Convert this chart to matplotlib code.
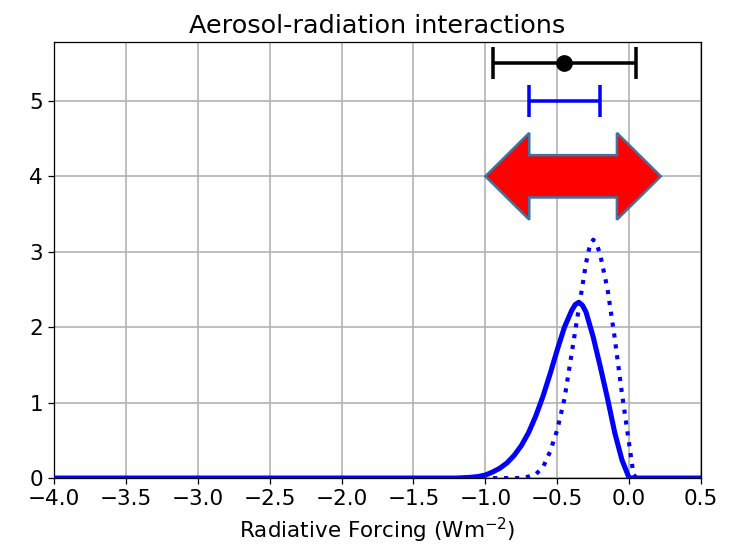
import numpy as np
import matplotlib
matplotlib.use("Agg")
import matplotlib.pyplot as plt
from matplotlib.patches import Polygon

plt.rcParams['font.size'] = 13.5

# solid curve
x_solid = [-4.0, -1.2, -1.1, -1.05, -1.0, -0.95, -0.9, -0.85, -0.8, -0.75, -0.7,
           -0.65, -0.6, -0.55, -0.5, -0.45, -0.4, -0.375, -0.35, -0.325, -0.3,
           -0.25, -0.2, -0.15, -0.1, -0.05, 0.0, 0.5]
y_solid = [0.0, 0.0, 0.01, 0.02, 0.04, 0.08, 0.13, 0.2, 0.3, 0.43, 0.6,
           0.82, 1.08, 1.38, 1.7, 2.0, 2.22, 2.3, 2.33, 2.29, 2.2,
           1.87, 1.47, 1.05, 0.6, 0.24, 0.0, 0.0]

# dotted curve
x_dot = [-4.0, -0.75, -0.7, -0.65, -0.6, -0.55, -0.5, -0.45, -0.4, -0.35, -0.3,
         -0.275, -0.25, -0.225, -0.2, -0.15, -0.1, -0.05, 0.0, 0.03, 0.05, 0.5]
y_dot = [0.0, 0.0, 0.02, 0.05, 0.14, 0.35, 0.64, 1.05, 1.65, 2.25, 2.85,
         3.07, 3.16, 3.1, 2.95, 2.5, 1.85, 1.12, 0.45, 0.05, 0.0, 0.0]

# error bars
black_mid, black_lo, black_hi, black_y = -0.45, -0.95, 0.05, 5.5
blue_mid, blue_lo, blue_hi, blue_y = -0.45, -0.7, -0.2, 5.0

# red double arrow
arrow_lo, arrow_hi, arrow_y = -1.0, 0.22, 4.0

fig = plt.figure(figsize=(6.4, 4.77), dpi=114.7)
ax = fig.add_axes([0.0736, 0.126, 0.955 - 0.0736, 0.923 - 0.126])

ax.plot(x_solid, y_solid, color='blue', lw=3.2, solid_joinstyle='round', zorder=3)
ax.plot(x_dot, y_dot, color='blue', lw=2.6, ls=':', zorder=3)

ax.errorbar([black_mid], [black_y], xerr=[[black_mid - black_lo], [black_hi - black_mid]],
            fmt='o', color='black', ms=9.5, lw=2.2, capsize=10, capthick=2.2, zorder=4)
ax.errorbar([blue_mid], [blue_y], xerr=[[blue_mid - blue_lo], [blue_hi - blue_mid]],
            fmt='none', ecolor='blue', lw=2.2, capsize=10, capthick=2.2, zorder=4)

# arrow outline built from its span
head = 0.305
body_w = 0.28
head_w = 0.575
pts = [(arrow_lo, arrow_y),
       (arrow_lo + head, arrow_y + head_w),
       (arrow_lo + head, arrow_y + body_w),
       (arrow_hi - head, arrow_y + body_w),
       (arrow_hi - head, arrow_y + head_w),
       (arrow_hi, arrow_y),
       (arrow_hi - head, arrow_y - head_w),
       (arrow_hi - head, arrow_y - body_w),
       (arrow_lo + head, arrow_y - body_w),
       (arrow_lo + head, arrow_y - head_w)]
ax.add_patch(Polygon(pts, closed=True, facecolor='red', edgecolor='#41719c',
                     lw=1.6, zorder=5))

ax.set_xlim(-4, 0.5)
ax.set_ylim(0, 5.78)
ax.set_xticks(np.arange(-4, 0.51, 0.5))
ax.set_yticks([0, 1, 2, 3, 4, 5])
ax.grid(True, color='#b0b0b0', lw=1)
ax.set_axisbelow(True)
ax.set_xlabel('Radiative Forcing (Wm$^{-2}$)')
ax.set_title('Aerosol-radiation interactions', fontsize=16)

fig.savefig('out.png', dpi=114.7)
